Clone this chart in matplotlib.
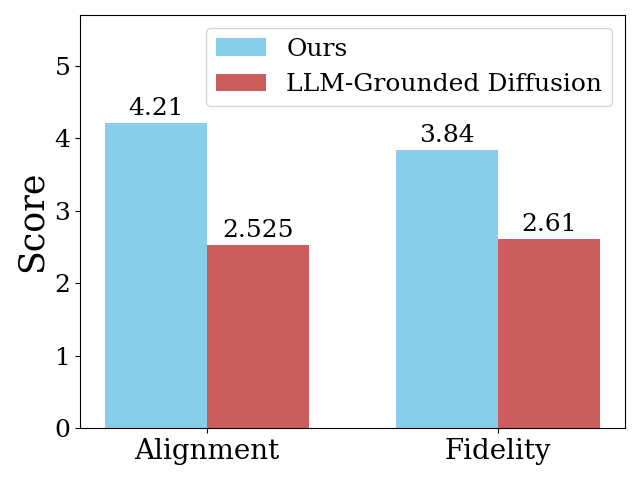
import numpy as np
import matplotlib
matplotlib.use('Agg')
import matplotlib.pyplot as plt

plt.rcParams.update({'font.family': 'serif'})

categories = ['Alignment', 'Fidelity']
ours = [4.21, 3.84]
llm_gd = [2.525, 2.61]
labels = ['Ours', 'LLM-Grounded Diffusion']

x = np.arange(len(categories))
w = 0.35

fig, ax = plt.subplots(figsize=(6.4, 4.8), dpi=100)
b1 = ax.bar(x - w / 2, ours, w, color='skyblue', label=labels[0])
b2 = ax.bar(x + w / 2, llm_gd, w, color='indianred', label=labels[1])
for bars in (b1, b2):
    ax.bar_label(bars, labels=[f'{v:g}' for v in bars.datavalues],
                 padding=2, fontsize=18)
ax.set_ylim(0, 5.7)
ax.set_xticks(x)
ax.set_xticklabels(categories, fontsize=20)
ax.tick_params(axis='y', labelsize=18)
ax.set_ylabel('Score', fontsize=25)
ax.legend(loc='upper right', fontsize=18)
fig.tight_layout()
fig.savefig('out.png')
